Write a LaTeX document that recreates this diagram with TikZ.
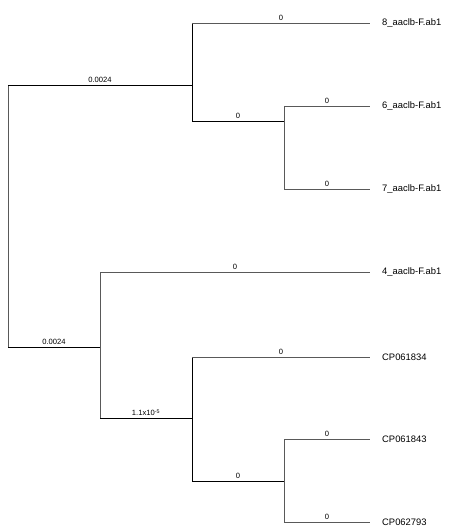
\documentclass[tikz,border=0pt]{standalone}
\usepackage{fontspec}
\setmainfont{Liberation Sans}
\usepackage{tikz}

\begin{document}
\begin{tikzpicture}[x=1pt, y=-1pt,
    branch/.style={draw=black!65, line width=0.7pt},
    heavy/.style={draw=black, line width=0.95pt},
    blen/.style={midway, above, inner sep=1.6pt, font=\fontsize{7.6}{8}\selectfont},
    leaf/.style={anchor=west, inner sep=0pt, font=\fontsize{9.4}{10}\selectfont}]

    % Frame of the figure (pixel units, y downwards)
    \useasboundingbox (0,0) rectangle (448,532);

    % Define parameters
    \def\tipx{382} % where the tip names start
    \def\gap{12}   % free space between branch end and name

    % Inner nodes of the tree
    \coordinate (R) at (8,216);
    \coordinate (A) at (192,85);
    \coordinate (B) at (284,121);
    \coordinate (C) at (100,347);
    \coordinate (D) at (192,418);
    \coordinate (E) at (284,481);

    % Tips
    \node[leaf] (t8) at (\tipx,23)  {8\_aaclb-F.ab1};
    \node[leaf] (t6) at (\tipx,106) {6\_aaclb-F.ab1};
    \node[leaf] (t7) at (\tipx,189) {7\_aaclb-F.ab1};
    \node[leaf] (t4) at (\tipx,272) {4\_aaclb-F.ab1};
    \node[leaf] (c34) at (\tipx,357) {CP061834};
    \node[leaf] (c43) at (\tipx,439) {CP061843};
    \node[leaf] (c93) at (\tipx,522) {CP062793};

    % Root and its two children
    \draw[branch] (R |- A) -- (R |- C);
    \draw[heavy] (R |- A) -- (A) node[blen] {0.0024};
    \draw[heavy] (R |- C) -- (C) node[blen] {0.0024};

    % Upper clade
    \draw[heavy] (A |- t8) -- (A |- B);
    \draw[branch] (A |- t8) -- ([xshift=-\gap pt]t8.west) node[blen] {0};
    \draw[heavy] (A |- B) -- (B) node[blen] {0};
    \draw[branch] (B |- t6) -- (B |- t7);
    \draw[branch] (B |- t6) -- ([xshift=-\gap pt]t6.west) node[blen] {0};
    \draw[branch] (B |- t7) -- ([xshift=-\gap pt]t7.west) node[blen] {0};

    % Lower clade
    \draw[branch] (C |- t4) -- (C |- D);
    \draw[branch] (C |- t4) -- ([xshift=-\gap pt]t4.west) node[blen] {0};
    \draw[heavy] (C |- D) -- (D) node[blen] {1.1x10\textsuperscript{-5}};
    \draw[heavy] (D |- c34) -- (D |- E);
    \draw[branch] (D |- c34) -- ([xshift=-\gap pt]c34.west) node[blen] {0};
    \draw[heavy] (D |- E) -- (E) node[blen] {0};
    \draw[branch] (E |- c43) -- (E |- c93);
    \draw[branch] (E |- c43) -- ([xshift=-\gap pt]c43.west) node[blen] {0};
    \draw[branch] (E |- c93) -- ([xshift=-\gap pt]c93.west) node[blen] {0};
\end{tikzpicture}
\end{document}
